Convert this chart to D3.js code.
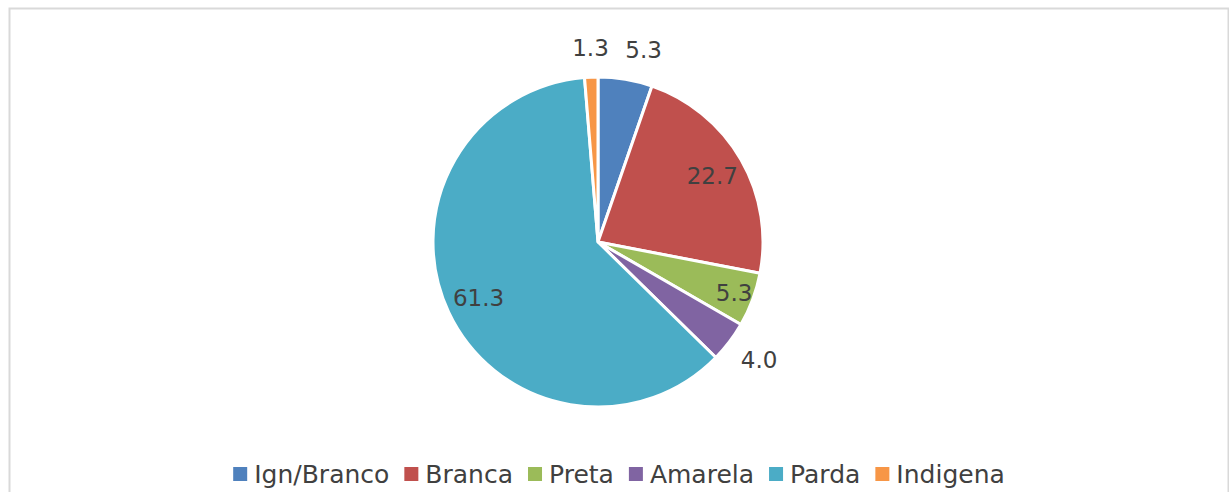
<!DOCTYPE html>
<html>
<head>
<meta charset="utf-8">
<script src="https://cdn.jsdelivr.net/npm/d3@7"></script>
<style>
  body { margin: 0; background: #fff; }
  text { font-family: "DejaVu Sans", Verdana, sans-serif; fill: #404040; }
</style>
</head>
<body>
<div id="chart"></div>
<script>
// categories and values (percent)
var categories = ['Ign/Branco', 'Branca', 'Preta', 'Amarela', 'Parda', 'Indigena']
var values = [5.3, 22.7, 5.3, 4.0, 61.3, 1.3]
var colors = ['#4F81BD', '#C0504D', '#9BBB59', '#8064A2', '#4BACC6', '#F79646']
// where Excel put each data label ("best fit")
var labelPlacement = ['out', 'in', 'in', 'out', 'in', 'out']

const config = {
    width: 1229,
    height: 492,
    cx: 598,
    cy: 242,
    radius: 165,
    labelSize: 23,
    legendSize: 25,
    legendY: 474
}

var svg = d3.select('#chart').append('svg')
    .attr('width', config.width)
    .attr('height', config.height)

// chart frame
svg.append('rect')
    .attr('x', 9.5).attr('y', 8.5)
    .attr('width', 1219).attr('height', 520)
    .attr('fill', 'none')
    .attr('stroke', '#d9d9d9')
    .attr('stroke-width', 2)

var pie = d3.pie().sort(null).value(d => d)
var arcs = pie(values)
var arc = d3.arc().innerRadius(0).outerRadius(config.radius)

var g = svg.append('g')
    .attr('transform', 'translate(' + config.cx + ',' + config.cy + ')')

g.selectAll('path')
    .data(arcs)
    .enter()
    .append('path')
    .attr('d', arc)
    .attr('fill', (d, i) => colors[i])
    .attr('stroke', '#fff')
    .attr('stroke-width', 3)
    .attr('stroke-linejoin', 'round')

// data labels
g.selectAll('text.lbl')
    .data(arcs)
    .enter()
    .append('text')
    .attr('class', 'lbl')
    .style('font-size', config.labelSize + 'px')
    .attr('text-anchor', 'middle')
    .attr('dy', '0.36em')
    .text(d => d.data.toFixed(1))
    .each(function (d, i) {
        var a = (d.startAngle + d.endAngle) / 2
        var s = Math.sin(a), c = Math.cos(a)
        var x, y
        if (labelPlacement[i] === 'in') {
            var k = d.data < 10 ? 0.88 : 0.8
            x = s * config.radius * k
            y = -c * config.radius * k
        } else {
            var w = this.getComputedTextLength()
            var h = config.labelSize
            var r = config.radius + 18
            var sx = Math.abs(s) < 0.1 ? 0 : Math.sign(s)
            x = s * r + sx * w / 2 - sx * 3
            y = -c * r - c * h / 2
        }
        d3.select(this).attr('x', x).attr('y', y)
    })

// legend
var legend = svg.append('g')
var items = legend.selectAll('g')
    .data(categories)
    .enter()
    .append('g')

items.append('rect')
    .attr('width', 14).attr('height', 14)
    .attr('y', config.legendY - 7)
    .attr('fill', (d, i) => colors[i])

items.append('text')
    .attr('x', 21)
    .attr('y', config.legendY)
    .attr('dy', '0.36em')
    .style('font-size', config.legendSize + 'px')
    .text(d => d)

var gap = 15
var pos = 0
var offsets = []
items.each(function () {
    offsets.push(pos)
    var tw = d3.select(this).select('text').node().getComputedTextLength()
    pos += 21 + tw + gap
})
var total = pos - gap
var startX = 619 - total / 2
items.attr('transform', (d, i) => 'translate(' + (startX + offsets[i]) + ',0)')
</script>
</body>
</html>
